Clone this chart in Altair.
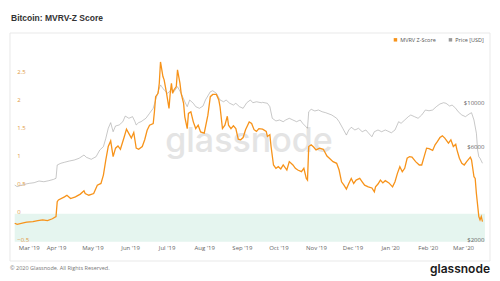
import altair as alt
import pandas as pd

# ---------------- data ----------------
z_dates = ["2019-02-26","2019-02-28","2019-03-06","2019-03-08","2019-03-13","2019-03-17","2019-03-21","2019-03-25","2019-03-29","2019-04-01",
"2019-04-02","2019-04-03","2019-04-08","2019-04-10","2019-04-13","2019-04-17","2019-04-21","2019-04-24","2019-04-25","2019-04-28",
"2019-05-02","2019-05-05","2019-05-08","2019-05-10","2019-05-12","2019-05-14","2019-05-16","2019-05-18","2019-05-20","2019-05-22",
"2019-05-24","2019-05-27","2019-05-29","2019-05-31","2019-06-02","2019-06-04","2019-06-06","2019-06-08","2019-06-11","2019-06-13",
"2019-06-15","2019-06-17","2019-06-20","2019-06-21","2019-06-22","2019-06-24","2019-06-25","2019-06-26","2019-06-28","2019-06-29",
"2019-07-01","2019-07-03","2019-07-04","2019-07-05","2019-07-06","2019-07-07","2019-07-09","2019-07-10","2019-07-12","2019-07-13",
"2019-07-15","2019-07-16","2019-07-18","2019-07-19","2019-07-21","2019-07-23","2019-07-25","2019-07-27","2019-07-29","2019-08-01",
"2019-08-04","2019-08-06","2019-08-08","2019-08-11","2019-08-13","2019-08-14","2019-08-16","2019-08-18","2019-08-20","2019-08-21",
"2019-08-23","2019-08-25","2019-08-27","2019-08-29","2019-08-31","2019-09-02","2019-09-04","2019-09-07","2019-09-09","2019-09-11",
"2019-09-13","2019-09-15","2019-09-18","2019-09-21","2019-09-22","2019-09-24","2019-09-25","2019-09-27","2019-09-29","2019-10-01",
"2019-10-03","2019-10-05","2019-10-08","2019-10-10","2019-10-13","2019-10-15","2019-10-17","2019-10-20","2019-10-22","2019-10-24",
"2019-10-25","2019-10-26","2019-10-28","2019-10-30","2019-11-01","2019-11-04","2019-11-07","2019-11-10","2019-11-12","2019-11-15",
"2019-11-18","2019-11-20","2019-11-22","2019-11-24","2019-11-26","2019-11-28","2019-11-30","2019-12-02","2019-12-04","2019-12-07",
"2019-12-09","2019-12-11","2019-12-14","2019-12-17","2019-12-19","2019-12-20","2019-12-22","2019-12-24","2019-12-26","2019-12-28",
"2019-12-31","2020-01-03","2020-01-05","2020-01-07","2020-01-09","2020-01-11","2020-01-13","2020-01-15","2020-01-17","2020-01-19",
"2020-01-22","2020-01-25","2020-01-27","2020-01-29","2020-01-31","2020-02-02","2020-02-05","2020-02-07","2020-02-09","2020-02-11",
"2020-02-13","2020-02-15","2020-02-18","2020-02-20","2020-02-22","2020-02-24","2020-02-25","2020-02-27","2020-02-29","2020-03-02",
"2020-03-04","2020-03-07","2020-03-08","2020-03-10","2020-03-11","2020-03-12","2020-03-14","2020-03-15","2020-03-16","2020-03-17"]
z_values = [-0.17,-0.19,-0.16,-0.15,-0.14,-0.125,-0.11,-0.125,-0.09,-0.05,
0.215,0.245,0.30,0.33,0.27,0.30,0.35,0.41,0.36,0.33,
0.36,0.51,0.54,0.69,0.96,1.20,1.30,1.02,1.17,1.21,
1.15,1.36,1.51,1.43,1.35,1.45,1.17,1.15,1.20,1.32,
1.49,1.58,1.61,1.82,2.09,2.15,2.33,2.71,2.45,2.39,
2.15,1.88,2.15,2.33,2.15,2.21,2.27,2.57,2.33,2.15,
1.97,1.73,1.52,1.79,1.82,1.64,1.52,1.58,1.46,1.44,
1.76,2.09,2.13,2.13,2.03,1.91,1.52,1.58,1.74,1.58,
1.52,1.57,1.52,1.33,1.32,1.36,1.50,1.64,1.61,1.50,
1.47,1.52,1.51,1.47,1.38,1.41,1.20,0.87,0.81,0.84,
0.80,0.87,0.78,0.93,0.87,0.81,0.78,0.75,0.81,0.63,
0.60,1.20,1.23,1.19,1.14,1.17,1.15,1.03,0.99,0.93,
0.90,0.78,0.57,0.51,0.44,0.54,0.63,0.54,0.60,0.63,
0.57,0.51,0.48,0.46,0.39,0.48,0.53,0.60,0.55,0.59,
0.55,0.48,0.57,0.72,0.84,0.75,0.81,0.99,1.02,1.01,
0.93,0.87,0.87,1.02,1.17,1.16,1.13,1.23,1.29,1.36,
1.39,1.35,1.26,1.32,1.20,1.24,1.14,0.99,0.90,0.87,
0.93,1.01,0.96,0.66,0.63,0.36,-0.05,-0.11,-0.05,-0.14]

price_dates = ["2019-02-26","2019-02-28","2019-03-06","2019-03-10","2019-03-14","2019-03-18","2019-03-22","2019-03-26","2019-03-30","2019-04-01",
"2019-04-02","2019-04-05","2019-04-08","2019-04-12","2019-04-16","2019-04-20","2019-04-24","2019-04-26","2019-04-30","2019-05-04",
"2019-05-07","2019-05-10","2019-05-12","2019-05-14","2019-05-16","2019-05-18","2019-05-20","2019-05-23","2019-05-26","2019-05-28",
"2019-05-31","2019-06-03","2019-06-05","2019-06-06","2019-06-08","2019-06-10","2019-06-14","2019-06-17","2019-06-20","2019-06-22",
"2019-06-24","2019-06-26","2019-06-27","2019-06-29","2019-07-02","2019-07-05","2019-07-07","2019-07-10","2019-07-13","2019-07-16",
"2019-07-18","2019-07-20","2019-07-23","2019-07-25","2019-07-28","2019-07-31","2019-08-02","2019-08-06","2019-08-08","2019-08-11",
"2019-08-14","2019-08-17","2019-08-19","2019-08-22","2019-08-25","2019-08-27","2019-08-30","2019-09-02","2019-09-05","2019-09-08",
"2019-09-10","2019-09-13","2019-09-17","2019-09-18","2019-09-22","2019-09-24","2019-09-26","2019-09-29","2019-10-02","2019-10-05",
"2019-10-07","2019-10-10","2019-10-13","2019-10-16","2019-10-19","2019-10-21","2019-10-25","2019-10-26","2019-10-28","2019-10-31",
"2019-11-03","2019-11-06","2019-11-09","2019-11-14","2019-11-18","2019-11-20","2019-11-23","2019-11-26","2019-11-28","2019-11-30",
"2019-12-03","2019-12-06","2019-12-09","2019-12-12","2019-12-14","2019-12-17","2019-12-19","2019-12-22","2019-12-25","2019-12-28",
"2019-12-30","2020-01-02","2020-01-05","2020-01-08","2020-01-10","2020-01-13","2020-01-16","2020-01-18","2020-01-21","2020-01-24",
"2020-01-27","2020-01-30","2020-02-02","2020-02-05","2020-02-08","2020-02-11","2020-02-14","2020-02-16","2020-02-19","2020-02-21",
"2020-02-24","2020-02-26","2020-02-29","2020-03-03","2020-03-06","2020-03-08","2020-03-10","2020-03-12","2020-03-13","2020-03-14",
"2020-03-15","2020-03-17"]
price_values = [3890,3820,3926,3970,4000,4080,4045,4095,4160,4212,
4925,5025,5085,5160,5220,5330,5535,5390,5265,5430,
5870,6110,6740,7580,8100,7280,7790,7880,8190,8750,
8525,8690,8190,7880,8100,8190,8525,9040,9585,10570,
11640,12610,12360,11885,11430,11985,11640,12360,11430,10350,
9770,10570,10165,9770,9585,9845,10570,11640,11780,11430,
10570,10350,10570,10165,9960,10165,9770,9585,10235,10570,
10235,10350,10235,10280,10165,9770,8525,8260,8355,8190,
8355,8525,8355,8190,8355,8035,7580,9210,9475,9290,
9395,9210,9100,8860,8525,8190,7580,7000,7430,7670,
7430,7580,7280,7430,7190,6865,7280,7430,7280,7430,
7340,7190,7430,8190,8035,8355,8690,8860,8690,8525,
8860,9395,9310,9395,9770,10085,10235,10165,9845,9960,
9585,9210,8860,8690,8965,9100,8355,7150,5870,5430,
5330,5025]

series_names = ["MVRV Z-Score", "Price [USD]"]
series_colors = ["#f7931a", "#9a9a9a"]
z_ticks = [-0.5, 0, 0.5, 1, 1.5, 2, 2.5]
z_domain = [-0.5, 3]
price_ticks = [2000, 6000, 10000]
price_domain = [2000, 20000]
band_bounds = [0, -0.5]
month_ticks = [(2019, m) for m in range(3, 13)] + [(2020, 1), (2020, 2), (2020, 3)]

title_text = "Bitcoin: MVRV-Z Score"
footer_text = "\u00a9 2020 Glassnode. All Rights Reserved."
logo_text = "glassnode"

# ---------------- layout ----------------
W, H = 470.2, 196
PAD = {"left": 14.7, "top": 45.7, "right": 15.1, "bottom": 39.3}
FONT = "Open Sans"

z_df = pd.DataFrame({"date": z_dates, "z": z_values})
p_df = pd.DataFrame({"date": price_dates, "price": price_values})
band_df = pd.DataFrame({"y0": [band_bounds[0]], "y1": [band_bounds[1]]})
one = pd.DataFrame({"k": [0]})

x_scale = alt.Scale(type="utc",
                    domain=[alt.DateTime(year=2019, month=2, date=26, utc=True),
                            alt.DateTime(year=2020, month=3, date=19, utc=True)])
x_axis = alt.Axis(values=[alt.DateTime(year=y, month=m, date=1, utc=True) for y, m in month_ticks],
                  format="%b '%y", title=None, domain=False, ticks=False, tickSize=0, grid=False,
                  labelPadding=3, labelFontSize=6, labelColor="#666", labelFont=FONT, labelFlush=5,
                  labelOverlap=False, zindex=2)
z_scale = alt.Scale(domain=z_domain, nice=False, zero=False)

frame = alt.Chart(one).mark_rect(fillOpacity=0, stroke="#e9e9e9", strokeWidth=1).encode(
    x=alt.value(-4.7), x2=alt.value(475.3), y=alt.value(-12.7), y2=alt.value(215.3))

band = alt.Chart(band_df).mark_rect(color="#e5f5ef").encode(
    x=alt.value(0), x2=alt.value(W),
    y=alt.Y("y0:Q", scale=z_scale, axis=None), y2="y1:Q")

watermark = alt.Chart(one).mark_text(text=logo_text, font="Inter", fontSize=34, fontWeight=500,
                                     color="#e4e4e4", align="center", baseline="alphabetic").encode(
    x=alt.value(234.3), y=alt.value(106.3))

price_line = alt.Chart(p_df).mark_line(color=series_colors[1], opacity=0.55, strokeWidth=1).encode(
    x=alt.X("date:T", scale=x_scale, axis=x_axis),
    y=alt.Y("price:Q", scale=alt.Scale(type="log", domain=price_domain, nice=False),
            axis=alt.Axis(orient="right", values=price_ticks, labelExpr="'$' + datum.value",
                          title=None, domain=False, ticks=False, tickSize=0, grid=False,
                          labelAlign="right", labelBaseline="alphabetic", labelPadding=-1,
                          labelFontSize=6, labelColor="#666", labelFont=FONT,
                          labelOverlap=False, zindex=2)))

z_line = alt.Chart(z_df).mark_line(color=series_colors[0], strokeWidth=1.3).encode(
    x=alt.X("date:T", scale=x_scale, axis=x_axis),
    y=alt.Y("z:Q", scale=z_scale,
            axis=alt.Axis(orient="left", values=z_ticks, format="~g", title=None, domain=False,
                          ticks=False, tickSize=0, grid=False, labelAlign="left",
                          labelBaseline="alphabetic", labelPadding=-2, labelFontSize=6,
                          labelColor="#e29a45", labelFont=FONT, labelOverlap=False, zindex=2)))

legend_layer = alt.Chart(pd.DataFrame({"series": series_names})).mark_square(
    filled=True, opacity=1, size=12).encode(
    color=alt.Color("series:N", scale=alt.Scale(domain=series_names, range=series_colors),
                    legend=alt.Legend(orient="none", legendX=378, legendY=-9, direction="horizontal",
                                      title=None, symbolType="square", symbolSize=12,
                                      symbolOpacity=1, labelFontSize=5.5, labelColor="#555",
                                      labelFont=FONT, labelOffset=2, columnPadding=11,
                                      padding=0))).transform_filter("false")

title = alt.Chart(one).mark_text(text=title_text, font="Liberation Sans", fontSize=8.5, fontWeight="bold",
                                 color="#333", align="left", baseline="alphabetic").encode(
    x=alt.value(-3.7), y=alt.value(-25.2))

footer = alt.Chart(one).mark_text(text=footer_text, font=FONT, fontSize=5.5, color="#777",
                                  align="left", baseline="alphabetic").encode(
    x=alt.value(-4.7), y=alt.value(224.5))

logo = alt.Chart(one).mark_text(text=logo_text, font="Inter", fontSize=12, fontWeight=600,
                                color="#1a1a1a", align="right", baseline="alphabetic").encode(
    x=alt.value(475.3), y=alt.value(227.5))

chart = alt.layer(frame, band, watermark, price_line, z_line, legend_layer, title, footer, logo).resolve_scale(
    y="independent"
).properties(
    width=W, height=H, padding=PAD, autosize="none", background="white"
).configure_view(stroke=None)

chart.save("out.html", embed_options={"renderer": "svg", "actions": False})
